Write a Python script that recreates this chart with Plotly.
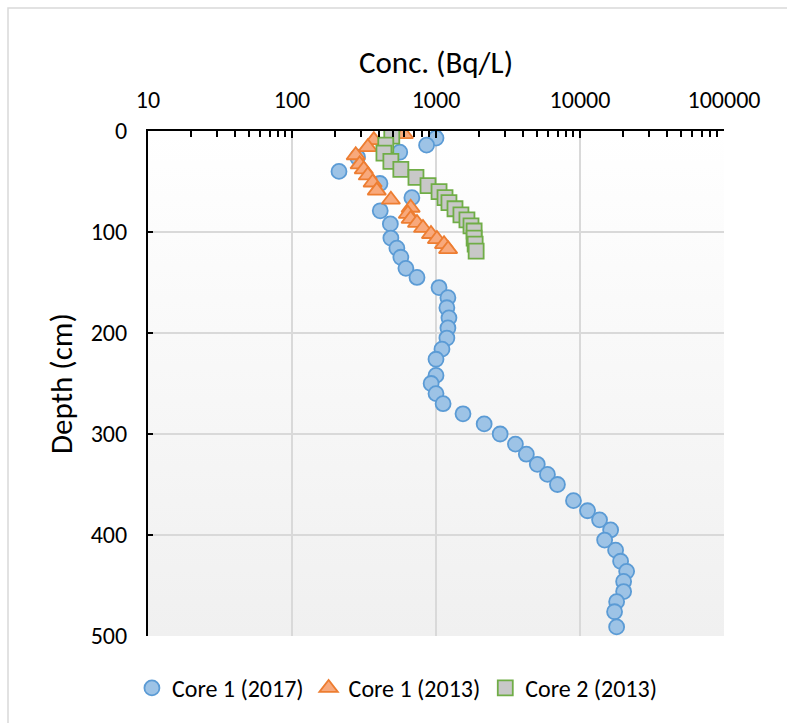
import base64
import plotly.graph_objects as go

# Core 1 sampled in 2017: depth (cm) and concentration (Bq/L)
core1_2017_depth = [7, 14, 21, 26, 40, 52, 66, 79, 92, 106, 116, 125, 136, 145,
                    155, 165, 175, 185, 195, 205, 216, 226, 242, 250, 260, 270,
                    280, 290, 300, 310, 320, 330, 340, 350, 366, 376, 385, 395,
                    405, 415, 426, 436, 446, 456, 466, 476, 491]
core1_2017_conc = [1000, 860, 560, 285, 212, 408, 680, 410, 482, 486, 535, 570,
                   618, 738, 1050, 1210, 1190, 1230, 1210, 1190, 1100, 1000, 1000,
                   925, 1000, 1120, 1540, 2160, 2790, 3560, 4240, 5050, 5940, 6970,
                   9010, 11280, 13670, 16320, 14830, 17670, 19140, 21080, 20090,
                   20090, 17960, 17380, 17960]

# Core 1 sampled in 2013
core1_2013_depth = [3, 9, 16, 24, 33, 38, 44, 51, 59, 68, 76, 82, 87, 91, 96,
                    102, 107, 112, 117]
core1_2013_conc = [598, 370, 336, 277, 295, 315, 336, 363, 388, 486, 667, 638,
                   667, 738, 812, 923, 1015, 1137, 1213]

# Core 2 sampled in 2013
core2_2013_depth = [5, 14, 22, 30, 38, 46, 54, 60, 66, 71, 77, 83, 88, 94, 99,
                    106, 112, 119]
core2_2013_conc = [493, 448, 435, 486, 570, 726, 880, 1050, 1155, 1230, 1355,
                   1490, 1640, 1750, 1840, 1840, 1870, 1900]

x_ticks = [10, 100, 1000, 10000, 100000]
y_ticks = [0, 100, 200, 300, 400, 500]

# minor ticks at 2..9 within each decade
x_minor = [m * d for d in x_ticks[:-1] for m in range(2, 10)]

FONT = "Carlito, Lato, 'Open Sans', sans-serif"

fig = go.Figure()

fig.add_trace(go.Scatter(
    x=core1_2017_conc, y=core1_2017_depth, mode="markers", name="Core 1 (2017)",
    marker=dict(symbol="circle", size=15, color="#9dc3e6",
                line=dict(color="#5b9bd5", width=1.8)),
))
fig.add_trace(go.Scatter(
    x=core1_2013_conc, y=core1_2013_depth, mode="markers", name="Core 1 (2013)",
    marker=dict(symbol="triangle-up", size=16, color="#f8a97c",
                line=dict(color="#ed7d31", width=1.8)),
))
fig.add_trace(go.Scatter(
    x=core2_2013_conc, y=core2_2013_depth, mode="markers", name="Core 2 (2013)",
    marker=dict(symbol="square", size=15, color="#c8c8c8",
                line=dict(color="#70ad47", width=1.8)),
))

# vertical white-to-grey fill behind the plotting area
svg = ('<svg xmlns="http://www.w3.org/2000/svg" width="10" height="100" '
       'preserveAspectRatio="none">'
       '<defs><linearGradient id="g" x1="0" y1="0" x2="0" y2="1">'
       '<stop offset="0" stop-color="#ffffff"/>'
       '<stop offset="1" stop-color="#f0f0f0"/></linearGradient></defs>'
       '<rect width="10" height="100" fill="url(#g)"/></svg>')
bg_src = "data:image/svg+xml;base64," + base64.b64encode(svg.encode()).decode()

fig.update_layout(
    width=787, height=723,
    margin=dict(l=148, r=63, t=131, b=87),
    paper_bgcolor="white",
    plot_bgcolor="rgba(0,0,0,0)",
    font=dict(family=FONT, size=24, color="black"),
    showlegend=True,
    legend=dict(orientation="h", xref="container", yref="container",
                x=0.505, xanchor="center", y=0.048, yanchor="middle",
                font=dict(size=24), itemwidth=30, tracegroupgap=0),
    images=[dict(source=bg_src, xref="paper", yref="paper", x=0, y=1,
                 sizex=1, sizey=1, xanchor="left", yanchor="top",
                 sizing="stretch", layer="below")],
    shapes=[dict(type="rect", xref="paper", yref="paper",
                 x0=-140 / 576, x1=2.0, y0=-1.0, y1=1 + 123 / 505,
                 line=dict(color="#d9d9d9", width=1.5), layer="below")],
)

fig.update_xaxes(
    type="log", side="top", range=[1, 5],
    tickvals=x_ticks, ticktext=[str(v) for v in x_ticks],
    ticks="inside", ticklen=7, tickwidth=1.5, tickcolor="black",
    minor=dict(tickmode="array", tickvals=x_minor, ticks="inside", ticklen=6,
               tickwidth=1.5, tickcolor="black", showgrid=False),
    showline=True, linecolor="black", linewidth=2,
    showgrid=True, gridcolor="#d9d9d9", gridwidth=2,
    zeroline=False,
    tickfont=dict(size=24), ticklabelstandoff=11,
    title=dict(text="Conc. (Bq/L)", font=dict(size=31), standoff=3),
)
fig.update_yaxes(
    range=[500, 0], tickvals=y_ticks,
    ticks="inside", ticklen=5, tickwidth=1.5, tickcolor="black",
    showline=True, linecolor="black", linewidth=2,
    showgrid=True, gridcolor="#d9d9d9", gridwidth=2,
    zeroline=False,
    tickfont=dict(size=24), ticklabelstandoff=14,
    title=dict(text="Depth (cm)", font=dict(size=31), standoff=9),
)

fig.write_html("out.html")
